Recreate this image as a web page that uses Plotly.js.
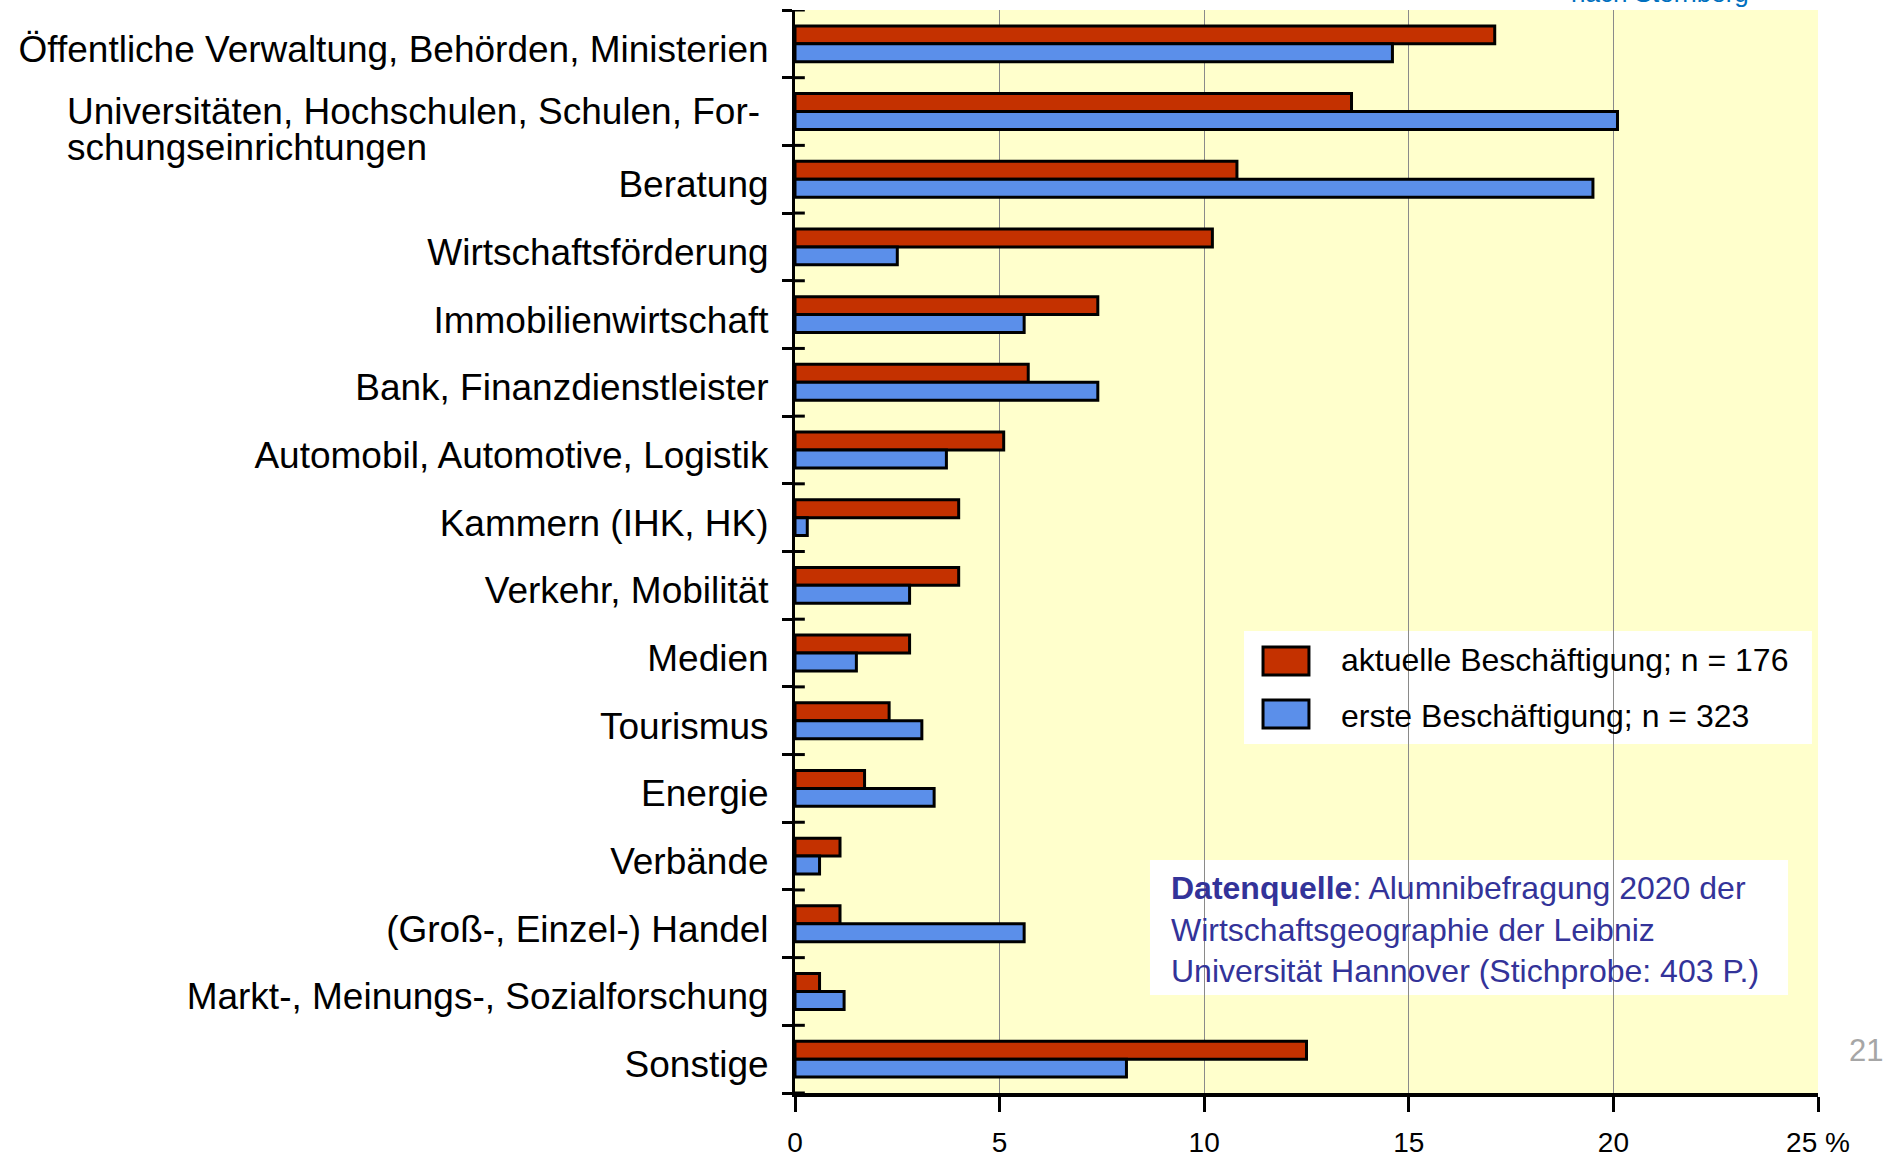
<!DOCTYPE html>
<html>
<head>
<meta charset="utf-8">
<script src="https://cdn.plot.ly/plotly-3.0.1.min.js"></script>
<style>html,body{margin:0;padding:0;background:#fff;}#chart{width:1888px;height:1157px;}</style>
</head>
<body>
<div id="chart"></div>
<script>
const categories = [
  "Öffentliche Verwaltung, Behörden, Ministerien",
  "Universitäten, Hochschulen, Schulen, For-<br>schungseinrichtungen",
  "Beratung",
  "Wirtschaftsförderung",
  "Immobilienwirtschaft",
  "Bank, Finanzdienstleister",
  "Automobil, Automotive, Logistik",
  "Kammern (IHK, HK)",
  "Verkehr, Mobilität",
  "Medien",
  "Tourismus",
  "Energie",
  "Verbände",
  "(Groß-, Einzel-) Handel",
  "Markt-, Meinungs-, Sozialforschung",
  "Sonstige"
];
const aktuelle = [17.1, 13.6, 10.8, 10.2, 7.4, 5.7, 5.1, 4.0, 4.0, 2.8, 2.3, 1.7, 1.1, 1.1, 0.6, 12.5];
const erste    = [14.6, 20.1, 19.5, 2.5, 5.6, 7.4, 3.7, 0.3, 2.8, 1.5, 3.1, 3.4, 0.6, 5.6, 1.2, 8.1];
const seriesNames = ["aktuelle Beschäftigung; n = 176", "erste Beschäftigung; n = 323"];
const seriesColors = ["#C43100", "#5B8FEA"];
const xTickVals = [0, 5, 10, 15, 20, 25];
const xTickText = ["0", "5", "10", "15", "20", "25 %"];
const sourceText = "<b>Datenquelle</b>: Alumnibefragung 2020 der<br>Wirtschaftsgeographie der Leibniz<br>Universität Hannover (Stichprobe: 403 P.)";

const FONT = "Liberation Sans, Arial, sans-serif";

const traces = [
  {type: "bar", orientation: "h", name: seriesNames[0], x: aktuelle, y: categories,
   marker: {color: seriesColors[0], line: {color: "#000", width: 3}}, hoverinfo: "x+name"},
  {type: "bar", orientation: "h", name: seriesNames[1], x: erste, y: categories,
   marker: {color: seriesColors[1], line: {color: "#000", width: 3}}, hoverinfo: "x+name"}
];

const shapes = [];
// inner half of the y-axis boundary ticks
for (let i = 0; i <= categories.length; i++) {
  shapes.push({type: "line", xref: "x", yref: "y", x0: 0, x1: 0.24, y0: i - 0.5, y1: i - 0.5,
               line: {color: "#000", width: 3}, layer: "above"});
}
// white box behind source note
shapes.push({type: "rect", xref: "paper", yref: "paper", x0: 0.347, x1: 0.9707, y0: 0.0905, y1: 0.2151,
             fillcolor: "#fff", line: {width: 0}, layer: "between"});
// legend box and swatches
shapes.push({type: "rect", xref: "paper", yref: "paper", x0: 0.4389, x1: 0.9941, y0: 0.3223, y1: 0.4266,
             fillcolor: "#fff", line: {width: 0}, layer: "between"});
const swatchY = [[0.3860, 0.4118], [0.3370, 0.3629]];
const legendTextY = [0.3998, 0.3481];
for (let k = 0; k < 2; k++) {
  shapes.push({type: "rect", xref: "paper", yref: "paper", x0: 0.4575, x1: 0.5024,
               y0: swatchY[k][0], y1: swatchY[k][1],
               fillcolor: seriesColors[k], line: {color: "#000", width: 3}, layer: "above"});
}

const annotations = [];
const twoLine = categories[1].split("<br>");
annotations.push({xref: "paper", yref: "y", x: 0, y: 1, xanchor: "right", yanchor: "middle",
  xshift: -33, text: twoLine[0], showarrow: false, font: {family: FONT, size: 37, color: "#000"}});
annotations.push({xref: "paper", yref: "y", x: 0, y: 1, xanchor: "left", yanchor: "middle",
  xshift: -730, yshift: -36, text: twoLine[1], showarrow: false, font: {family: FONT, size: 37, color: "#000"}});
for (let k = 0; k < 2; k++) {
  annotations.push({xref: "paper", yref: "paper", x: 0.5318, y: legendTextY[k], xanchor: "left", yanchor: "middle",
    text: seriesNames[k], showarrow: false, font: {family: FONT, size: 32, color: "#000"}});
}
annotations.push({xref: "paper", yref: "paper", x: 0.3656, y: 0.1514, xanchor: "left", yanchor: "middle",
  align: "left", text: sourceText, showarrow: false, font: {family: FONT, size: 32, color: "#333399"}});
annotations.push({xref: "paper", yref: "paper", x: 1.047, y: 0.0397, xanchor: "center", yanchor: "middle",
  text: "21", showarrow: false, font: {family: FONT, size: 31, color: "#A6A6A6"}});
annotations.push({xref: "paper", yref: "paper", x: 0.8456, y: 1, xanchor: "center", yanchor: "bottom",
  yshift: 0, text: "nach Sternberg", showarrow: false, font: {family: FONT, size: 26, color: "#0070C0"}});

const layout = {
  width: 1888, height: 1157,
  margin: {l: 795, r: 70, t: 10, b: 64, pad: 0},
  paper_bgcolor: "#fff",
  plot_bgcolor: "#FFFFCC",
  barmode: "group",
  bargap: 0.47,
  bargroupgap: 0,
  font: {family: FONT, color: "#000"},
  xaxis: {
    range: [0, 25], tickvals: xTickVals, ticktext: xTickText,
    showgrid: true, gridcolor: "#8a8a8a", gridwidth: 1,
    zeroline: false, showline: true, linecolor: "#000", linewidth: 4,
    ticks: "outside", ticklen: 15, tickwidth: 3, tickcolor: "#000",
    tickfont: {family: FONT, size: 28, color: "#000"}, ticklabelstandoff: 6,
    fixedrange: true
  },
  yaxis: {
    type: "category", range: [categories.length - 0.5, -0.5],
    tickvals: categories,
    ticktext: categories.map(c => c.includes("<br>") ? "" : c),
    tickson: "boundaries", ticks: "outside", ticklen: 10, tickwidth: 3, tickcolor: "#000",
    showline: true, linecolor: "#000", linewidth: 3, showgrid: false, zeroline: false,
    tickfont: {family: FONT, size: 37, color: "#000"}, ticklabelstandoff: 16, ticklabelshift: -5,
    fixedrange: true
  },
  showlegend: false,
  shapes: shapes,
  annotations: annotations
};

Plotly.newPlot("chart", traces, layout, {displayModeBar: false, staticPlot: true});
</script>
</body>
</html>
